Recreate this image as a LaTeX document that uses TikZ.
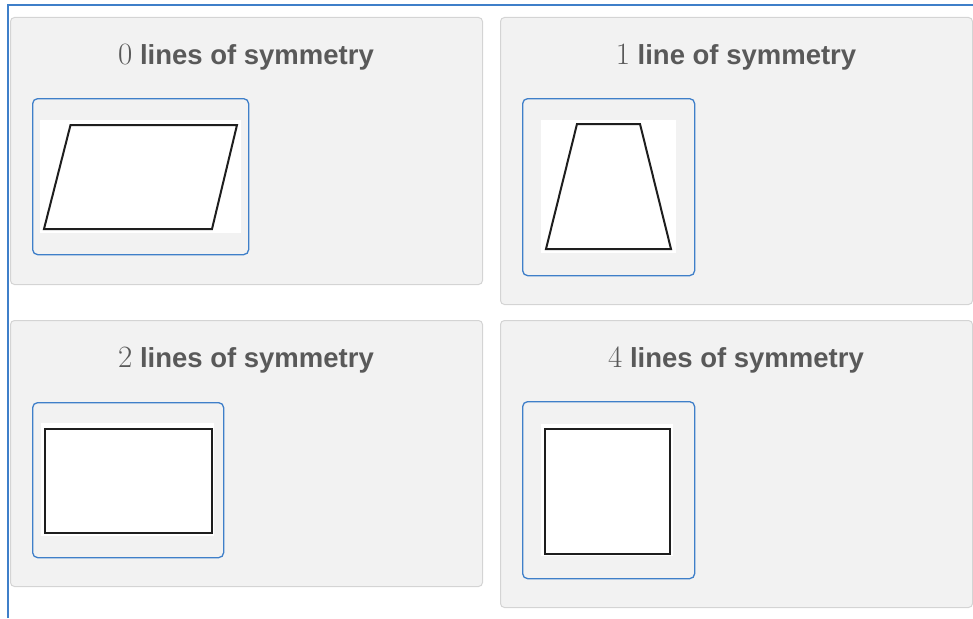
\documentclass[tikz,border=0pt]{standalone}
\usepackage{fontspec}
\setsansfont{Liberation Sans}
\usepackage{tikz}
\usetikzlibrary{positioning}
\definecolor{frame}{HTML}{3F7FC9}
\definecolor{panelbg}{HTML}{F2F2F2}
\definecolor{panelline}{HTML}{D4D4D4}
\definecolor{titletext}{HTML}{595959}
\definecolor{ink}{HTML}{1E1E1E}
\tikzset{
  panel/.style={draw=panelline, fill=panelbg, rounded corners=4pt, line width=1pt, anchor=north west, inner sep=0pt},
  thumb/.style={draw=frame, rounded corners=5pt, line width=1.3pt, anchor=north west, inner sep=0pt},
  canvas/.style={fill=white, anchor=north west, inner sep=0pt},
  title/.style={anchor=base, text=titletext, inner sep=0pt, font=\fontsize{27.5}{32}\selectfont\sffamily\bfseries},
  figline/.style={draw=ink, line width=2pt, line join=miter},
}
\newcommand{\dig}[1]{{\fontsize{31}{32}\selectfont\rmfamily\mdseries #1}}

\begin{document}
\begin{tikzpicture}[x=1pt, y=-1pt]
  \useasboundingbox (0,0) rectangle (973,618);
  \draw[frame, line width=1.5pt] (8,618) -- (8,5) -- (973,5);

  % panels
  \node[panel, minimum width=472pt, minimum height=267pt] (p0) at (10,17) {};
  \node[panel, minimum width=472pt, minimum height=287pt] (p1) at (500,17) {};
  \node[panel, minimum width=472pt, minimum height=266pt] (p2) at (10,320) {};
  \node[panel, minimum width=472pt, minimum height=287pt] (p4) at (500,320) {};

  \node[title] (h0) at (246,64) {\dig{0} lines of symmetry};
  \node[title] (h1) at (736,64) {\dig{1} line of symmetry};
  \node[title] (h2) at (246,367) {\dig{2} lines of symmetry};
  \node[title] (h4) at (736,367) {\dig{4} lines of symmetry};

  % answer tiles
  \node[thumb, minimum width=216pt, minimum height=156pt] (f0) at (32,98) {};
  \node[thumb, minimum width=172pt, minimum height=177pt] (f1) at (522,98) {};
  \node[thumb, minimum width=191pt, minimum height=155pt] (f2) at (32,402) {};
  \node[thumb, minimum width=172pt, minimum height=177pt] (f4) at (522,401) {};

  \node[canvas, minimum width=201pt, minimum height=113pt] (c0) at (40,120) {};
  \node[canvas, minimum width=135pt, minimum height=133pt] (c1) at (541,120) {};
  \node[canvas, minimum width=173pt, minimum height=113pt] (c2) at (41,423) {};
  \node[canvas, minimum width=132pt, minimum height=132pt] (c4) at (541,424) {};

  % shapes
  \draw[figline] (44,229) -- (70.5,125) -- (237,125) -- (212,229) -- cycle;
  \draw[figline] (546,249) -- (577,124) -- (640,124) -- (671,249) -- cycle;
  \draw[figline] (45,429) rectangle (212,533);
  \draw[figline] (545,429) rectangle (670,554);
\end{tikzpicture}
\end{document}
